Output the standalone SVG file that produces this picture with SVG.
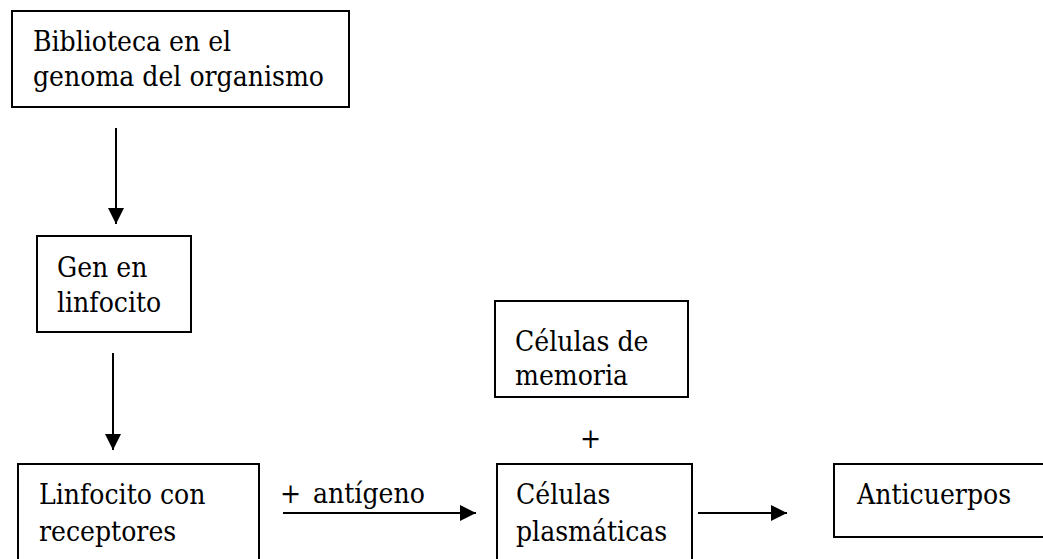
<svg xmlns="http://www.w3.org/2000/svg" width="1043" height="559" viewBox="0 0 1043 559">
  <style>
    .box { fill: #ffffff; stroke: #000000; stroke-width: 2; }
    .lbl { font-family: "DejaVu Serif Condensed", "DejaVu Serif", serif; font-stretch: condensed; font-size: 28px; fill: #000000; }
    .wire { stroke: #000000; stroke-width: 2; fill: none; }
  </style>
  <defs>
    <marker id="head" viewBox="0 0 16 16" refX="16" refY="8" markerWidth="16" markerHeight="16" markerUnits="userSpaceOnUse" orient="auto">
      <path d="M0,0 L16,8 L0,16 Z" fill="#000000"/>
    </marker>
  </defs>
  <rect width="1043" height="559" fill="#ffffff"/>

  <g id="connectors">
    <line class="wire" x1="116" y1="128" x2="116" y2="224" marker-end="url(#head)"/>
    <line class="wire" x1="113" y1="353" x2="113" y2="450" marker-end="url(#head)"/>
    <line class="wire" x1="283" y1="513" x2="476" y2="513" marker-end="url(#head)"/>
    <line class="wire" x1="698" y1="513" x2="787" y2="513" marker-end="url(#head)"/>
    <text class="lbl" x="280" y="503">+</text>
    <text class="lbl" x="313" y="503">antígeno</text>
    <text class="lbl" x="580" y="448">+</text>
  </g>

  <g id="biblioteca">
    <rect class="box" x="12" y="11" width="337" height="96"/>
    <text class="lbl" x="33" y="51">Biblioteca en el</text>
    <text class="lbl" x="33" y="86">genoma del organismo</text>
  </g>

  <g id="gen-linfocito">
    <rect class="box" x="37" y="236" width="154" height="96"/>
    <text class="lbl" x="57" y="277">Gen en</text>
    <text class="lbl" x="57" y="312">linfocito</text>
  </g>

  <g id="linfocito-receptores">
    <rect class="box" x="18" y="464" width="241" height="110"/>
    <text class="lbl" x="39" y="504">Linfocito con</text>
    <text class="lbl" x="39" y="541">receptores</text>
  </g>

  <g id="celulas-memoria">
    <rect class="box" x="495" y="301" width="193" height="96"/>
    <text class="lbl" x="515" y="351">Células de</text>
    <text class="lbl" x="515" y="385">memoria</text>
  </g>

  <g id="celulas-plasmaticas">
    <rect class="box" x="497" y="464" width="195" height="110"/>
    <text class="lbl" x="516" y="504">Células</text>
    <text class="lbl" x="516" y="541">plasmáticas</text>
  </g>

  <g id="anticuerpos">
    <rect class="box" x="834" y="464" width="220" height="73"/>
    <text class="lbl" x="857" y="504">Anticuerpos</text>
  </g>
</svg>
